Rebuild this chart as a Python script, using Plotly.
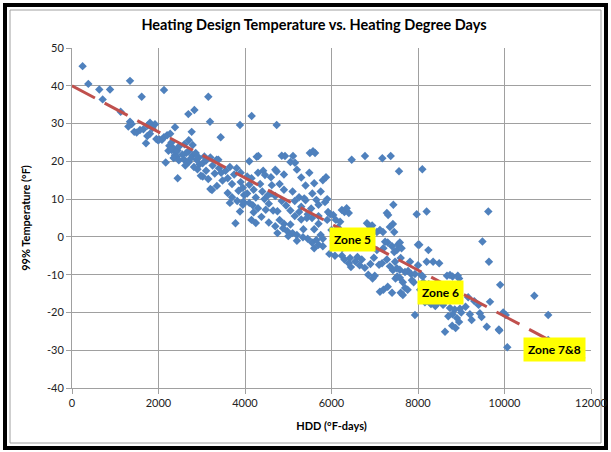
import plotly.graph_objects as go

# Scatter data (HDD, 99% design temperature °F)
hdd = [
    245, 377, 631, 879, 709,
    1125, 1341, 1611, 1341, 1380, 1303, 1440, 1495, 1572, 1741, 1803, 1711, 1803, 1919, 1650, 1860, 1950, 1750, 1990,
    2127, 2019, 2126, 2080, 2250, 2230, 2305, 2382, 2340, 2400, 2380, 2420, 2440, 2166, 2443, 2200, 2300, 2480, 2270, 2350, 2470,
    2690, 2830, 2767, 2790, 2690, 2640, 2790, 2860, 2883, 2590, 2550, 2600, 2700, 2750, 2950, 2900, 2980, 2620, 2820, 2700, 2930,
    3152, 3191, 3438, 3020, 3100, 3345, 3399, 3022, 3237, 3200, 3100, 3250, 3300, 3150, 3450, 3350, 3480, 3060, 3200, 3383,
    3884, 3808, 3550, 3600, 3650, 3700, 3750, 3850, 3900, 3950, 3600, 3700, 3780, 3820, 3950, 3650, 3980, 3900, 3884, 3962,
    4154, 4270, 4308, 4050, 4100, 4150, 4200, 4250, 4350, 4400, 4450, 4300, 4380, 4100, 4200, 4480, 4050, 4420, 4100, 4250, 4300, 4150, 4462, 4180,
    4733, 4925, 4850, 4600, 4700, 4800, 4900, 4650, 4750, 4850, 4950, 4550, 4700, 4800, 4900, 4980, 4600, 4700, 4550, 4900, 4620, 4880, 4750, 4530, 4733,
    5110, 5050, 5200, 5300, 5100, 5250, 5400, 5050, 5150, 5300, 5450, 5100, 5200, 5350, 5450, 5050, 5400, 5200, 5487, 5300, 5370, 5430, 5340, 5250, 5150, 5500, 5000, 5156,
    5572, 5620, 5557, 5873, 5600, 5750, 5800, 5900, 5650, 5700, 5850, 5550, 5700, 5970, 5920, 5600, 5750, 5900, 5550, 5650, 5800, 5700, 5600, 5950, 5700, 6000, 5800, 5530,
    6040, 6240, 6300, 6400, 6350, 6080, 6240, 6150, 6200, 6100, 6430, 6300, 6450, 6250, 6467, 6350, 6150, 6050, 6400,
    6774, 6820, 6900, 6940, 6550, 6650, 6770, 6600, 6700, 6850, 6950, 7000, 6900, 6600, 6750, 6550, 6980,
    7175, 7369, 7430, 7280, 7310, 7190, 7120, 7420, 7450, 7350, 7240, 7300, 7400, 7450, 7100, 7170, 7280, 7350, 7420, 7120, 7200, 7300, 7400, 7480, 7050, 7200, 7470, 7050,
    7561, 7540, 7580, 7510, 7600, 7510, 7580, 7700, 7770, 7840, 7930, 7580, 7650, 7700, 7600, 7760, 7860, 7815, 7970, 8000, 7930, 7520, 7650, 7900, 7620,
    8100, 8200, 8240, 8030, 8200, 8350, 8490, 8070, 8110, 8120, 8160, 8300, 8400, 8450, 8250, 8050, 8000,
    8580, 8625, 8670, 8740, 8800, 8950, 8920, 8740, 8800, 8850, 8900, 8950, 8790, 8870, 8970, 8700, 9000,
    9160, 9240, 9300, 9400, 9430, 9470, 9490, 9200, 9100,
    9590, 9626, 9640, 9665, 9870, 9880, 9900, 9970, 10030,
    10065, 10690, 11010, 11010,
]
temp = [
    45.2, 40.5, 39.0, 39.0, 36.4,
    33.1, 41.3, 37.1, 30.5, 29.9, 29.2, 27.8, 27.6, 28.3, 26.7, 27.3, 24.8, 30.2, 29.8, 28.5, 28.8, 25.9, 29.5, 25.6,
    38.9, 25.8, 26.4, 25.7, 24.1, 22.8, 23.0, 29.0, 23.5, 22.4, 21.6, 21.2, 22.9, 19.7, 15.5, 26.9, 25.0, 24.0, 27.3, 20.9, 20.3,
    32.5, 33.6, 27.8, 24.3, 22.6, 22.2, 21.6, 22.2, 20.4, 20.5, 21.8, 24.5, 19.8, 20.8, 19.2, 17.9, 16.2, 18.9, 18.5, 25.6, 21.0,
    37.1, 30.5, 26.4, 19.5, 20.2, 20.4, 18.2, 16.0, 12.4, 12.7, 17.5, 18.9, 16.8, 15.3, 17.0, 13.5, 14.9, 21.3, 21.0, 20.4,
    29.6, 18.2, 17.5, 15.5, 18.5, 14.0, 16.5, 12.2, 14.5, 13.0, 11.6, 10.5, 3.6, 9.5, 8.5, 9.0, 11.1, 17.0, 6.7, 9.3,
    32.0, 21.2, 21.4, 16.0, 13.8, 15.5, 12.5, 10.4, 14.0, 12.0, 10.0, 7.6, 5.3, 9.0, 6.5, 7.2, 11.5, 17.5, 20.0, 3.7, 17.0, 4.5, 16.4, 8.4,
    29.6, 21.4, 21.5, 11.5, 10.8, 14.0, 12.5, 7.0, 6.8, 9.5, 8.3, 3.8, 2.8, 4.5, 3.5, 1.5, 15.8, 17.8, 8.8, 16.5, 13.7, 2.3, 1.0, 11.0, 17.3,
    21.4, 19.8, 17.8, 15.7, 12.0, 10.5, 13.6, 7.0, 5.5, 4.6, 6.0, 1.0, 0.5, 2.0, -0.5, 3.3, 9.7, -1.0, 17.0, 8.0, 10.2, 5.0, -0.1, 6.6, 9.5, 22.2, 0.2, 19.6,
    22.7, 22.2, 11.5, 15.8, 14.2, 12.0, 15.0, 10.0, 9.8, 8.5, 9.2, 5.0, 5.5, 6.0, 6.6, 2.0, 0.5, 4.5, -1.5, -0.8, -2.5, -2.1, -3.0, -4.5, 3.5, 1.8, -0.5, 7.5,
    5.8, 7.1, 6.6, 6.3, 7.6, -5.0, -5.0, 2.5, 4.0, 4.5, -5.6, -6.0, -8.0, -3.0, 20.4, 0.5, -2.2, -1.0, -7.0,
    21.4, 3.6, 2.6, 3.0, -6.5, -7.5, -8.2, -5.3, -6.0, -10.0, -11.0, -10.3, -7.2, -2.5, -1.5, 1.0, -5.5,
    20.8, 21.4, 8.5, 6.3, 5.8, 1.3, 1.8, 3.4, 1.3, 2.6, -1.3, -1.5, -2.5, -4.0, -7.4, -7.0, -6.0, -7.8, -8.8, -14.5, -14.0, -13.2, -14.8, -11.0, -3.5, -3.0, -6.6, 1.3,
    17.4, -2.0, -1.5, -3.5, -5.6, -8.3, -8.7, -9.3, -9.0, -9.8, -9.8, -10.8, -12.0, -13.5, -14.8, -14.0, -11.5, -6.6, 6.0, -2.1, -20.7, -10.5, -15.4, -12.0, -3.0,
    17.9, 6.7, -3.5, -2.1, -6.6, -6.6, -7.0, -10.0, -10.5, -12.0, -17.3, -17.8, -18.3, -17.5, -12.5, -14.0, -7.5,
    -18.0, -25.1, -10.3, -10.1, -10.5, -11.0, -10.3, -18.8, -20.5, -19.2, -21.5, -22.5, -23.5, -24.1, -19.0, -21.0, -20.0,
    -16.0, -22.0, -17.0, -18.0, -20.2, -21.2, -1.2, -20.5, -18.5,
    -23.8, 6.7, -6.6, -17.2, -24.5, -24.8, -12.7, -20.0, -20.7,
    -29.2, -15.6, -20.7, -27.3,
]

# Linear trend line end points
trend_hdd = [0, 12000]
trend_temp = [40.0, -33.2]

# Zone labels
zone_labels = ["Zone 5", "Zone 6", "Zone 7&8"]
zone_hdd = [6474, 8509, 11145]
zone_temp = [-0.8, -14.6, -29.7]

x_ticks = [0, 2000, 4000, 6000, 8000, 10000, 12000]
y_ticks = [50, 40, 30, 20, 10, 0, -10, -20, -30, -40]

FONT = "Lato, 'Open Sans', sans-serif"

fig = go.Figure()
fig.add_trace(go.Scatter(
    x=hdd, y=temp, mode="markers",
    marker=dict(symbol="diamond", size=6.5, color="#4f81bd", line=dict(width=0)),
    showlegend=False, hoverinfo="x+y",
))
fig.add_trace(go.Scatter(
    x=trend_hdd, y=trend_temp, mode="lines",
    line=dict(color="#c0504d", width=3, dash="26px,11px"),
    showlegend=False, hoverinfo="skip",
))

for lab, zx, zy in zip(zone_labels, zone_hdd, zone_temp):
    fig.add_annotation(
        x=zx, y=zy, text="<b>%s</b>" % lab, showarrow=False,
        bgcolor="#ffff00", font=dict(family=FONT, size=12, color="#000000"),
        borderpad=4,
    )

# Outer frame of the picture (paper coords relative to the plot area)
L, R, T, B = 72, 20, 48, 64
W, H = 611, 452
pw, ph = W - L - R, H - T - B
def px2paper_x(px):
    return (px - L) / pw
def px2paper_y(py):
    return (H - B - py) / ph

fig.add_shape(type="rect", xref="paper", yref="paper",
              x0=px2paper_x(5), x1=px2paper_x(606), y0=px2paper_y(448), y1=px2paper_y(5),
              line=dict(color="#000000", width=4), layer="below")
fig.add_shape(type="rect", xref="paper", yref="paper",
              x0=px2paper_x(10), x1=px2paper_x(601), y0=px2paper_y(443), y1=px2paper_y(10),
              line=dict(color="#a0a0a0", width=1), layer="below")

fig.update_layout(
    width=W, height=H,
    margin=dict(l=L, r=R, t=T, b=B, autoexpand=False),
    paper_bgcolor="#ffffff", plot_bgcolor="#ffffff",
    font=dict(family=FONT, size=11, color="#222222"),
    title=dict(text="<b>Heating Design Temperature vs. Heating Degree Days</b>",
               x=314 / W, xanchor="center", y=1 - 25 / H, yanchor="middle",
               font=dict(family=FONT, size=14.5, color="#000000")),
)
fig.update_xaxes(
    range=[0, 12000], tickvals=x_ticks, ticktext=[str(v) for v in x_ticks],
    showgrid=True, gridcolor="#a0a0a0", gridwidth=1,
    showline=True, linecolor="#a0a0a0", linewidth=1,
    ticks="outside", ticklen=5, tickcolor="#a0a0a0",
    zeroline=False, mirror=False, automargin=False,
    title=dict(text="<b>HDD (°F-days)</b>", standoff=14, font=dict(family=FONT, size=11, color="#000000")),
    tickfont=dict(family=FONT, size=11, color="#222222"),
)
fig.update_yaxes(
    range=[-40, 50], tickvals=y_ticks, ticktext=[str(v) for v in y_ticks],
    showgrid=True, gridcolor="#a0a0a0", gridwidth=1,
    showline=True, linecolor="#a0a0a0", linewidth=1,
    ticks="outside", ticklen=5, tickcolor="#a0a0a0",
    zeroline=False, automargin=False,
    title=dict(text="<b>99% Temperature (°F)</b>", standoff=14, font=dict(family=FONT, size=11, color="#000000")),
    tickfont=dict(family=FONT, size=11, color="#222222"),
)

fig.write_html(
    "out.html",
    config={"displayModeBar": False},
    post_script="document.body.style.margin='0px';document.body.style.overflow='hidden';",
)
